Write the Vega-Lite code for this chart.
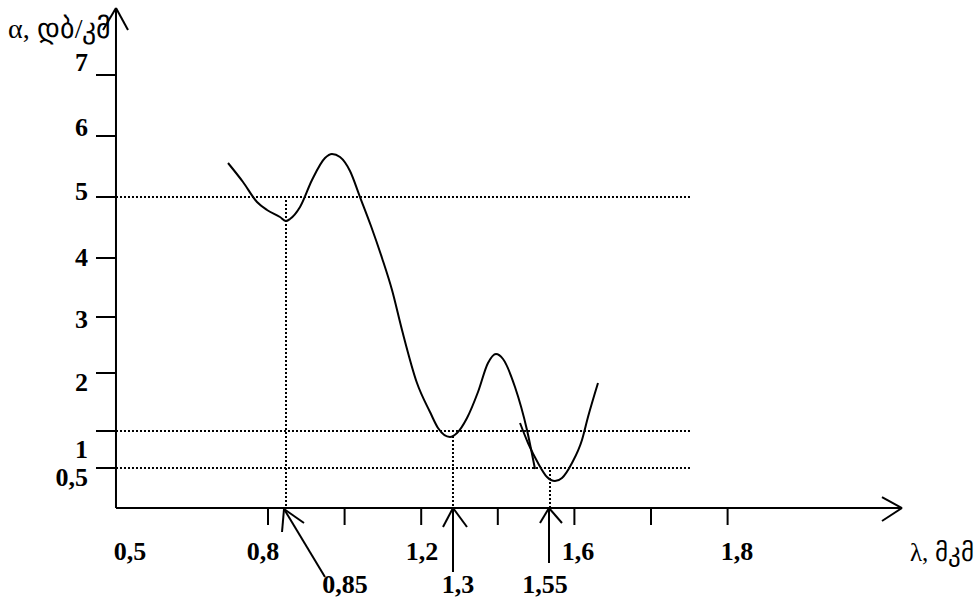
{
  "$schema": "https://vega.github.io/schema/vega-lite/v6.json",
  "width": 979,
  "height": 598,
  "autosize": "none",
  "padding": 0,
  "background": "white",
  "config": {"view": {"stroke": null}},
  "datasets": {
    "solid": [
      {"x": 0.4031, "y": -0.253, "x2": 0.4031, "y2": 8.122},
      {"x": 0.4031, "y": 8.122, "x2": 0.3692, "y2": 7.754},
      {"x": 0.4031, "y": 8.122, "x2": 0.4345, "y2": 7.754},
      {"x": 0.4031, "y": -0.253, "x2": 2.4554, "y2": -0.253},
      {"x": 2.4554, "y": -0.253, "x2": 2.4031, "y2": -0.069},
      {"x": 2.4554, "y": -0.253, "x2": 2.4031, "y2": -0.471},
      {"x": 0.3509, "y": 7.0, "x2": 0.4031, "y2": 7.0},
      {"x": 0.3509, "y": 5.978, "x2": 0.4031, "y2": 5.978},
      {"x": 0.3509, "y": 4.956, "x2": 0.4031, "y2": 4.956},
      {"x": 0.3509, "y": 3.935, "x2": 0.4031, "y2": 3.935},
      {"x": 0.3509, "y": 2.946, "x2": 0.4031, "y2": 2.946},
      {"x": 0.3509, "y": 2.008, "x2": 0.4031, "y2": 2.008},
      {"x": 0.3509, "y": 1.037, "x2": 0.4031, "y2": 1.037},
      {"x": 0.3509, "y": 0.417, "x2": 0.4031, "y2": 0.417},
      {"x": 0.8, "y": -0.253, "x2": 0.8, "y2": -0.538},
      {"x": 1.0, "y": -0.253, "x2": 1.0, "y2": -0.538},
      {"x": 1.2, "y": -0.253, "x2": 1.2, "y2": -0.538},
      {"x": 1.4, "y": -0.253, "x2": 1.4, "y2": -0.538},
      {"x": 1.6, "y": -0.253, "x2": 1.6, "y2": -0.538},
      {"x": 1.8, "y": -0.253, "x2": 1.8, "y2": -0.538},
      {"x": 2.0, "y": -0.253, "x2": 2.0, "y2": -0.538},
      {"x": 0.8418, "y": -0.27, "x2": 0.9488, "y2": -1.409},
      {"x": 0.8418, "y": -0.27, "x2": 0.8366, "y2": -0.655},
      {"x": 0.8418, "y": -0.27, "x2": 0.894, "y2": -0.504},
      {"x": 1.283, "y": -0.253, "x2": 1.283, "y2": -1.325},
      {"x": 1.283, "y": -0.253, "x2": 1.2569, "y2": -0.571},
      {"x": 1.283, "y": -0.253, "x2": 1.3196, "y2": -0.571},
      {"x": 1.5337, "y": -0.253, "x2": 1.5337, "y2": -1.174},
      {"x": 1.5337, "y": -0.253, "x2": 1.5102, "y2": -0.504},
      {"x": 1.5337, "y": -0.253, "x2": 1.5676, "y2": -0.504}
    ],
    "dotted": [
      {"x": 0.4031, "y": 4.956, "x2": 1.9018, "y2": 4.956},
      {"x": 0.4031, "y": 1.037, "x2": 1.9018, "y2": 1.037},
      {"x": 0.4031, "y": 0.417, "x2": 1.9018, "y2": 0.417},
      {"x": 0.847, "y": 4.906, "x2": 0.847, "y2": -0.253},
      {"x": 1.283, "y": 0.953, "x2": 1.283, "y2": -0.253},
      {"x": 1.5363, "y": 0.384, "x2": 1.5363, "y2": -0.253}
    ],
    "curve": [
      {"s": "a", "i": 1, "lam": 0.6956, "att": 5.526},
      {"s": "a", "i": 2, "lam": 0.7347, "att": 5.208},
      {"s": "a", "i": 3, "lam": 0.7713, "att": 4.873},
      {"s": "a", "i": 4, "lam": 0.7974, "att": 4.739},
      {"s": "a", "i": 5, "lam": 0.8313, "att": 4.621},
      {"s": "a", "i": 6, "lam": 0.847, "att": 4.554},
      {"s": "a", "i": 7, "lam": 0.8574, "att": 4.588},
      {"s": "a", "i": 8, "lam": 0.8836, "att": 4.789},
      {"s": "a", "i": 9, "lam": 0.9149, "att": 5.241},
      {"s": "a", "i": 10, "lam": 0.9488, "att": 5.61},
      {"s": "a", "i": 11, "lam": 0.9671, "att": 5.677},
      {"s": "a", "i": 12, "lam": 0.988, "att": 5.626},
      {"s": "a", "i": 13, "lam": 1.0141, "att": 5.392},
      {"s": "a", "i": 14, "lam": 1.0402, "att": 4.956},
      {"s": "a", "i": 15, "lam": 1.0689, "att": 4.471},
      {"s": "a", "i": 16, "lam": 1.0977, "att": 3.935},
      {"s": "a", "i": 17, "lam": 1.1238, "att": 3.399},
      {"s": "a", "i": 18, "lam": 1.1499, "att": 2.729},
      {"s": "a", "i": 19, "lam": 1.189, "att": 1.841},
      {"s": "a", "i": 20, "lam": 1.223, "att": 1.355},
      {"s": "a", "i": 21, "lam": 1.2439, "att": 1.087},
      {"s": "a", "i": 22, "lam": 1.2752, "att": 0.936},
      {"s": "a", "i": 23, "lam": 1.2935, "att": 1.003},
      {"s": "a", "i": 24, "lam": 1.3196, "att": 1.255},
      {"s": "a", "i": 25, "lam": 1.3483, "att": 1.69},
      {"s": "a", "i": 26, "lam": 1.3744, "att": 2.176},
      {"s": "a", "i": 27, "lam": 1.3953, "att": 2.327},
      {"s": "a", "i": 28, "lam": 1.4136, "att": 2.243},
      {"s": "a", "i": 29, "lam": 1.4449, "att": 1.774},
      {"s": "a", "i": 30, "lam": 1.4762, "att": 1.054},
      {"s": "a", "i": 31, "lam": 1.4971, "att": 0.4},
      {"s": "b", "i": 1, "lam": 1.458, "att": 1.171},
      {"s": "b", "i": 2, "lam": 1.4789, "att": 0.836},
      {"s": "b", "i": 3, "lam": 1.505, "att": 0.501},
      {"s": "b", "i": 4, "lam": 1.5285, "att": 0.266},
      {"s": "b", "i": 5, "lam": 1.5493, "att": 0.199},
      {"s": "b", "i": 6, "lam": 1.5676, "att": 0.25},
      {"s": "b", "i": 7, "lam": 1.5937, "att": 0.501},
      {"s": "b", "i": 8, "lam": 1.6198, "att": 0.886},
      {"s": "b", "i": 9, "lam": 1.6355, "att": 1.271},
      {"s": "b", "i": 10, "lam": 1.6616, "att": 1.841}
    ],
    "ylabels": [
      {"t": "7", "x": 0.33, "y": 7.201},
      {"t": "6", "x": 0.33, "y": 6.112},
      {"t": "5", "x": 0.33, "y": 5.04},
      {"t": "4", "x": 0.33, "y": 3.935},
      {"t": "3", "x": 0.33, "y": 2.896},
      {"t": "2", "x": 0.33, "y": 1.841},
      {"t": "1", "x": 0.33, "y": 0.719},
      {"t": "0,5", "x": 0.33, "y": 0.25}
    ],
    "xlabels": [
      {"t": "0,5", "x": 0.4397, "y": -0.99},
      {"t": "0,8", "x": 0.7869, "y": -0.99},
      {"t": "1,2", "x": 1.2021, "y": -0.99},
      {"t": "1,6", "x": 1.6094, "y": -0.99},
      {"t": "1,8", "x": 2.0245, "y": -0.99},
      {"t": "0,85", "x": 1.001, "y": -1.543},
      {"t": "1,3", "x": 1.2961, "y": -1.543},
      {"t": "1,55", "x": 1.5232, "y": -1.543}
    ],
    "titles": [
      {"t": "α, დბ/კმ", "x": 0.1211, "y": 7.754, "k": "top"},
      {"t": "λ, მკმ", "x": 2.4762, "y": -1.007, "k": "bottom"}
    ]
  },
  "layer": [
    {
      "data": {"name": "dotted"},
      "mark": {"type": "rule", "color": "black", "strokeWidth": 2, "strokeDash": [2, 2]},
      "encoding": {
        "x": {"field": "x", "type": "quantitative", "scale": {"domain": [0.10026, 2.6564], "nice": false, "zero": false}, "axis": null},
        "y": {"field": "y", "type": "quantitative", "scale": {"domain": [-1.7605, 8.2563], "nice": false, "zero": false}, "axis": null},
        "x2": {"field": "x2"},
        "y2": {"field": "y2"}
      }
    },
    {
      "data": {"name": "solid"},
      "mark": {"type": "rule", "color": "black", "strokeWidth": 2},
      "encoding": {
        "x": {"field": "x", "type": "quantitative"},
        "y": {"field": "y", "type": "quantitative"},
        "x2": {"field": "x2"},
        "y2": {"field": "y2"}
      }
    },
    {
      "data": {"name": "curve"},
      "mark": {"type": "line", "color": "black", "strokeWidth": 2, "interpolate": "monotone"},
      "encoding": {
        "x": {"field": "lam", "type": "quantitative"},
        "y": {"field": "att", "type": "quantitative"},
        "detail": {"field": "s"},
        "order": {"field": "i", "type": "quantitative"}
      }
    },
    {
      "data": {"name": "ylabels"},
      "mark": {"type": "text", "align": "right", "baseline": "middle", "font": "Liberation Serif", "fontWeight": "bold", "fontSize": 26, "color": "black", "letterSpacing": -1.5},
      "encoding": {
        "x": {"field": "x", "type": "quantitative"},
        "y": {"field": "y", "type": "quantitative"},
        "text": {"field": "t"}
      }
    },
    {
      "data": {"name": "xlabels"},
      "mark": {"type": "text", "align": "center", "baseline": "middle", "font": "Liberation Serif", "fontWeight": "bold", "fontSize": 26, "color": "black", "letterSpacing": -1.5},
      "encoding": {
        "x": {"field": "x", "type": "quantitative"},
        "y": {"field": "y", "type": "quantitative"},
        "text": {"field": "t"}
      }
    },
    {
      "data": {"name": "titles"},
      "transform": [{"filter": "datum.k === 'top'"}],
      "mark": {"type": "text", "align": "left", "baseline": "middle", "font": "Liberation Serif", "fontSize": 28, "color": "black"},
      "encoding": {
        "x": {"field": "x", "type": "quantitative"},
        "y": {"field": "y", "type": "quantitative"},
        "text": {"field": "t"}
      }
    },
    {
      "data": {"name": "titles"},
      "transform": [{"filter": "datum.k === 'bottom'"}],
      "mark": {"type": "text", "align": "left", "baseline": "middle", "font": "Liberation Serif", "fontSize": 25, "color": "black"},
      "encoding": {
        "x": {"field": "x", "type": "quantitative"},
        "y": {"field": "y", "type": "quantitative"},
        "text": {"field": "t"}
      }
    }
  ]
}
